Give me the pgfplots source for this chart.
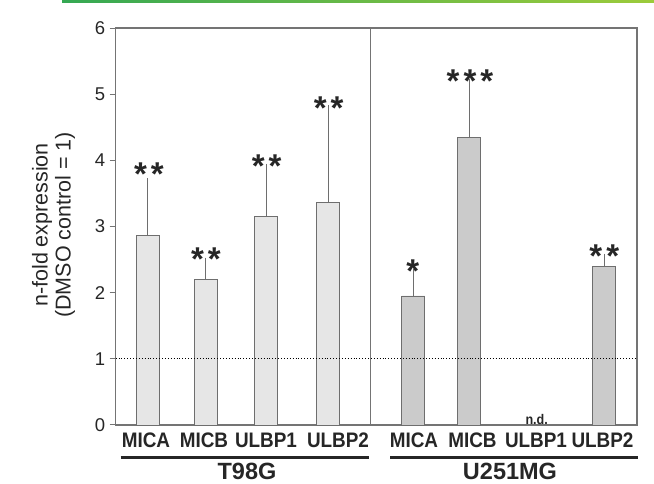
\documentclass[border=0pt]{standalone}
\usepackage{pgfplots}
\pgfplotsset{compat=1.18}
\usepackage{fontspec}
\setmainfont{Liberation Sans}
\newfontfamily\narrowfont[FakeStretch=0.9]{Liberation Sans}
\definecolor{frame}{HTML}{747474}
\definecolor{barA}{HTML}{E6E6E6}
\definecolor{barB}{HTML}{CBCBCB}
\definecolor{barEdge}{HTML}{6E6E6E}
\definecolor{gL}{HTML}{35A853}
\definecolor{gR}{HTML}{9CCB3B}
\begin{document}
\begin{tikzpicture}[x=1pt,y=1pt]
\path[use as bounding box] (0,0) rectangle (654,484);
\shade[left color=gL, right color=gR] (62,481) rectangle (654,484);
\begin{axis}[
  at={(115.7pt,59pt)}, anchor=south west,
  scale only axis, width=521.3pt, height=397pt,
  xmin=115.7, xmax=637, ymin=0, ymax=6,
  clip=false,
  axis line style={frame, line width=1.3pt},
  xtick=\empty,
  ytick={0,1,2,3,4,5,6},
  ytick pos=left, tick align=outside,
  major tick length=6pt,
  tick style={frame, line width=1pt},
  /pgf/number format/assume math mode=true,
  yticklabel style={font=\fontsize{18.5}{20}\selectfont, text=black!85, xshift=-1pt},
  ylabel={n-fold expression\\(DMSO control = 1)},
  every axis y label/.style={at={(axis description cs:-0.119,0.504)}, rotate=90, anchor=center, align=center, font=\fontsize{21.5}{23}\selectfont, text=black!85},
  ybar, bar width=23, bar shift=0pt,
]
\addplot[fill=barA, draw=barEdge, line width=0.9pt,
  error bars/.cd, y dir=plus, y explicit,
  error bar style={color=barEdge, line width=0.9pt},
  error mark options={mark size=2pt, color=barEdge, line width=0.9pt}]
coordinates {
  (147.7,2.87) +- (0,0.83)
  (205.8,2.20) +- (0,0.30)
  (266.3,3.15) +- (0,0.77)
  (328.0,3.37) +- (0,1.43)
};
\addplot[fill=barB, draw=barEdge, line width=0.9pt,
  error bars/.cd, y dir=plus, y explicit,
  error bar style={color=barEdge, line width=0.9pt},
  error mark options={mark size=2pt, color=barEdge, line width=0.9pt}]
coordinates {
  (413.3,1.95) +- (0,0.38)
  (469.3,4.35) +- (0,0.85)
  (604.3,2.39) +- (0,0.17)
};
% dotted reference line at 1 and divider
\draw[black, dotted, line width=0.9pt] (axis cs:115.7,1) -- (axis cs:637,1);
\draw[frame, line width=1.3pt] (axis cs:370.7,0) -- (axis cs:370.7,6);
% significance marks
\begin{scope}[every node/.style={anchor=base, inner sep=0pt, font=\bfseries\fontsize{33}{33}\selectfont, text=black!85}]
\node at (axis cs:149,3.620) {*\kern4pt*};
\node at (axis cs:206,2.339) {*\kern4pt*};
\node at (axis cs:266.7,3.745) {*\kern4pt*};
\node at (axis cs:328.7,4.612) {*\kern4pt*};
\node at (axis cs:412.7,2.158) {*};
\node at (axis cs:470,5.020) {*\kern4pt*\kern4pt*};
\node at (axis cs:604.3,2.376) {*\kern4pt*};
\end{scope}
\node[anchor=base, inner sep=0pt, font=\narrowfont\bfseries\fontsize{14}{14}\selectfont, text=black!85] at (axis cs:536.7,0.015) {n.d.};
% category labels
\begin{scope}[every node/.style={anchor=base, inner sep=0pt, font=\narrowfont\bfseries\fontsize{21}{21}\selectfont, text=black!85}]
\node at (axis cs:146,-0.3476) {MICA};
\node at (axis cs:204,-0.3476) {MICB};
\node at (axis cs:266,-0.3476) {ULBP1};
\node at (axis cs:338,-0.3476) {ULBP2};
\node at (axis cs:414,-0.3476) {MICA};
\node at (axis cs:472.5,-0.3476) {MICB};
\node at (axis cs:536,-0.3476) {ULBP1};
\node at (axis cs:602.5,-0.3476) {ULBP2};
\end{scope}
\draw[black!85, line width=3pt] (axis cs:120.7,-0.488) -- (axis cs:369.3,-0.488);
\draw[black!85, line width=3pt] (axis cs:390,-0.488) -- (axis cs:638.3,-0.488);
\node[anchor=base, inner sep=0pt, font=\bfseries\fontsize{23.5}{23.5}\selectfont, text=black!85] at (axis cs:247,-0.831) {T98G};
\node[anchor=base, inner sep=0pt, font=\bfseries\fontsize{23.5}{23.5}\selectfont, text=black!85] at (axis cs:510,-0.831) {U251MG};
\end{axis}
\end{tikzpicture}
\end{document}
